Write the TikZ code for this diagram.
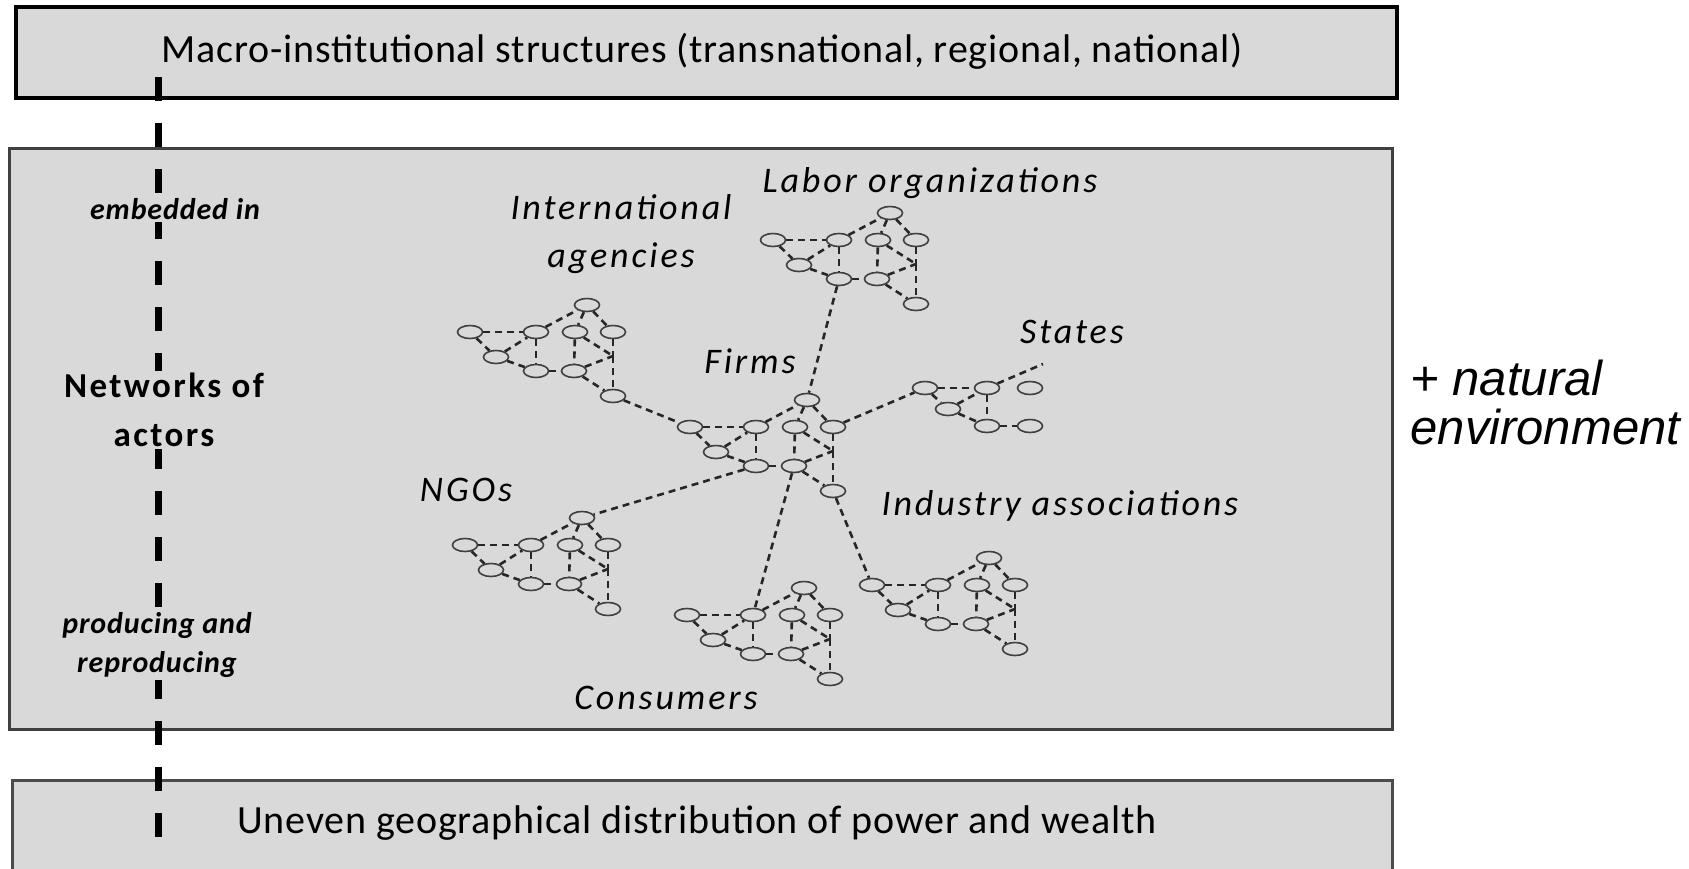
\documentclass[tikz,border=0pt]{standalone}
\usepackage{fontspec}
\setmainfont{Carlito}
\newfontfamily\boxfont[LetterSpace=2]{Carlito}
\newfontfamily\sidefont[LetterSpace=3]{Carlito}
\newfontfamily\headfont[LetterSpace=7]{Carlito}
\newfontfamily\labelfont[LetterSpace=8]{Carlito}
\newfontfamily\arialfont{Liberation Sans}
\usetikzlibrary{shapes.geometric}

\definecolor{boxgray}{RGB}{217,217,217}

\tikzset{
  panel/.style={draw=black!85, line width=3pt, fill=boxgray},
  actor/.style={ellipse, draw=black!75, line width=1.6pt, minimum width=25pt, minimum height=13pt, inner sep=0pt},
  tie/.style={line width=2.6pt, black!85, dash pattern=on 7pt off 5pt},
  spine/.style={line width=7pt, dash pattern=on 24pt off 22pt},
  boxtext/.style={font=\boxfont\fontsize{40}{44}\selectfont},
  sidetext/.style={fill=boxgray, inner sep=2pt, align=center},
  netlabel/.style={font=\labelfont\fontsize{36}{48}\selectfont\itshape, align=center},
}

% one cluster of actors: #1 name prefix, #2 position of its left ellipse
\newcommand{\actornet}[2]{%
  \begin{scope}[shift={#2}]
    \foreach \n/\x/\y in {a/0/0, b/26/25, c/66/0, d/66/39, e/117/-27, f/105/0, g/104/39, h/143/0, i/143/64}
      \node[actor] (#1\n) at (\x,\y) {};
    \coordinate (#1j) at (143,24);
  \end{scope}
  \foreach \s/\t in {a/c, a/b, b/c, b/d, c/d, c/e, e/f, e/h, f/g, d/g, g/i, f/j, g/j, h/j, j/i}
    \draw[tie] (#1\s) -- (#1\t);
}

\begin{document}
\begin{tikzpicture}[x=1pt, y=-1pt, line cap=butt]
  \useasboundingbox (0,0) rectangle (1689,868);
  \clip (0,0) rectangle (1689,868);

  % the three layers
  \draw[panel, line width=3.5pt, draw=black] (16,7) rectangle (1397,98);
  \draw[panel, draw=black!75] (9,148) rectangle (1392,729);
  \draw[panel, draw=black!70] (12,780) rectangle (1392,890);

  \node[boxtext, anchor=base] (macro) at (702,62) {Macro-institutional structures (transnational, regional, national)};
  \node[boxtext, anchor=base] (uneven) at (697,833) {Uneven geographical distribution of power and wealth};

  % dashed spine through the layers
  \coordinate (spinetop) at (158,77);
  \coordinate (spinebot) at (158,845);
  \draw[spine] (spinetop) -- (spinebot);

  \node[sidetext, font=\sidefont\fontsize{30}{34}\selectfont\bfseries\itshape] (embed) at (175,209) {embedded in};
  \node[sidetext, font=\headfont\fontsize{35}{49}\selectfont\bfseries] (actors) at (164,410) {Networks of\\actors};
  \node[sidetext, font=\sidefont\fontsize{30}{39}\selectfont\bfseries\itshape] (prod) at (157,645) {producing and\\reproducing};

  % clusters
  \actornet{ia}{(470,332)}
  \actornet{lo}{(773,240)}
  \actornet{fi}{(690,427)}
  \actornet{ng}{(465,545)}
  \actornet{co}{(687,615)}
  \actornet{in}{(872,585)}

  \begin{scope}[shift={(925,388)}]
    \foreach \n/\x/\y in {a/0/0, b/23/21, c/62/0, d/62/38, f/105/0, g/105/38}
      \node[actor] (st\n) at (\x,\y) {};
  \end{scope}
  \coordinate (stend) at (1043,364);
  \foreach \s/\t in {a/c, a/b, b/c, b/d, c/d, d/g}
    \draw[tie] (st\s) -- (st\t);
  \draw[tie] (stc) -- (stend);

  % ties between clusters
  \draw[tie] (iai) -- (fia);
  \draw[tie] (lod) -- (fie);
  \draw[tie] (fih) -- (sta);
  \draw[tie] (fid) -- (nge);
  \draw[tie] (fig) -- (coc);
  \draw[tie] (fii) -- (ina);

  % labels
  \node[netlabel] (ialabel) at (621,234) {International\\agencies};
  \node[netlabel] (lolabel) at (930,183) {Labor organizations};
  \node[netlabel] (filabel) at (750,361) {Firms};
  \node[netlabel] (stlabel) at (1072,332) {States};
  \node[netlabel] (nglabel) at (466,490) {NGOs};
  \node[netlabel] (inlabel) at (1060,506) {Industry associations};
  \node[netlabel] (colabel) at (666,698) {Consumers};

  \node[font=\arialfont\itshape\fontsize{49}{49}\selectfont, align=left, anchor=west] (nature) at (1407,402) {+ natural\\environment};
\end{tikzpicture}
\end{document}
